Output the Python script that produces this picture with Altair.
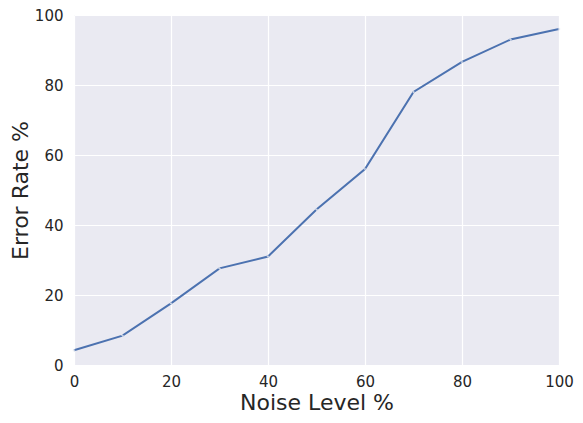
import altair as alt
import pandas as pd

noise = [0, 10, 20, 30, 40, 50, 60, 70, 80, 90, 100]
error = [4.2, 8.4, 17.6, 27.6, 31.0, 44.4, 56.0, 78.0, 86.6, 93.0, 96.0]

df = pd.DataFrame({"noise": noise, "error": error})

base = alt.Chart(df)
line = base.mark_line(color="#4C72B0", strokeWidth=2).encode(
    x=alt.X("noise:Q", title="Noise Level %",
            scale=alt.Scale(domain=[0, 100], nice=False, zero=False),
            axis=alt.Axis(values=[0, 20, 40, 60, 80, 100])),
    y=alt.Y("error:Q", title="Error Rate %",
            scale=alt.Scale(domain=[0, 100], nice=False),
            axis=alt.Axis(values=[0, 20, 40, 60, 80, 100])),
)
pts = base.mark_point(shape="cross", size=6, color="#dfe3ee", filled=True, opacity=0.8).encode(
    x="noise:Q", y="error:Q"
)

chart = (line + pts).properties(
    width=485, height=350,
    autosize=alt.AutoSizeParams(type="none"),
    padding={"left": 66, "top": 7, "right": 16, "bottom": 50},
).configure_view(
    fill="#EAEAF2", stroke=None
).configure_axis(
    grid=True, gridColor="white", gridWidth=1.2, domain=False, ticks=False,
    labelFont="DejaVu Sans", labelFontSize=15, labelColor="#262626",
    labelFlush=False,
    titleFont="DejaVu Sans", titleFontSize=22, titleColor="#262626", titleFontWeight="normal",
).configure_axisX(labelPadding=9, titlePadding=3).configure_axisY(labelPadding=11, titlePadding=2)

chart.save("out.html", embed_options={"renderer": "svg", "actions": False})
